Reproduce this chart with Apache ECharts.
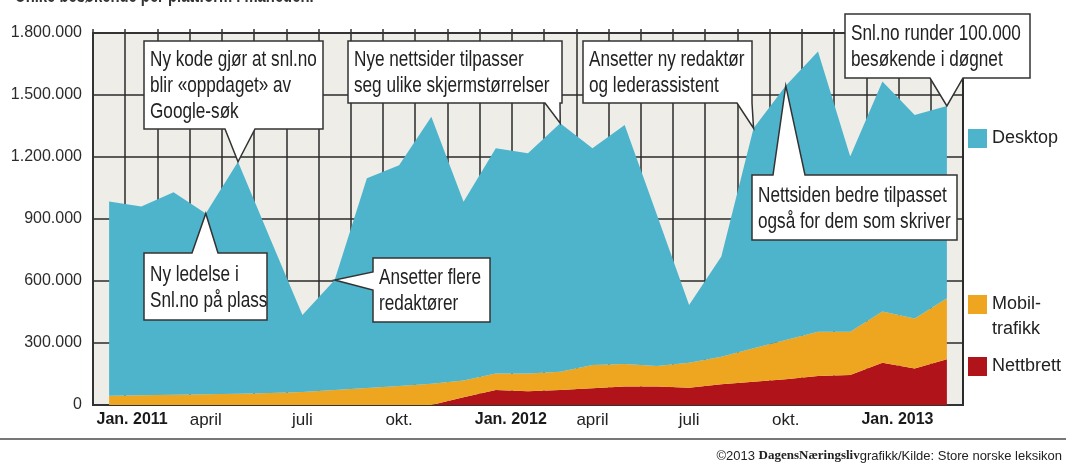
<!DOCTYPE html>
<html><head><meta charset="utf-8">
<script src="https://cdn.jsdelivr.net/npm/echarts@6/dist/echarts.min.js"></script>
<style>html,body{margin:0;padding:0;background:#fff}#c{width:1066px;height:467px}</style>
</head><body><div id="c"></div>
<script>
// ---------- DATA ----------
const months = ['2011-01','2011-02','2011-03','2011-04','2011-05','2011-06','2011-07','2011-08','2011-09','2011-10','2011-11','2011-12',
                '2012-01','2012-02','2012-03','2012-04','2012-05','2012-06','2012-07','2012-08','2012-09','2012-10','2012-11','2012-12',
                '2013-01','2013-02','2013-03'];
const xTickLabels = ['Jan. 2011','','','april','','','juli','','','okt.','','',
                     'Jan. 2012','','','april','','','juli','','','okt.','','',
                     'Jan. 2013','',''];
const yTickValues = [0,300000,600000,900000,1200000,1500000,1800000];
const nettbrett = [0,0,0,0,0,0,0,0,0,0,0,38000,
                   72000,66000,73000,81000,89000,89000,84000,100000,113000,124000,140000,145000,
                   205000,177000,221000];
const mobil = [45000,47000,50000,52000,55000,58000,63000,72000,82000,92000,103000,80000,
               81000,87000,88000,113000,109000,100000,121000,134000,161000,191000,215000,210000,
               247000,242000,295000];
const desktop = [940000,913000,980000,875000,1122000,747000,372000,533000,1015000,1068000,1292000,866000,
                 1089000,1065000,1202000,1048000,1157000,731000,279000,484000,1065000,1230000,1355000,847000,
                 1113000,984000,931000];
const seriesNames = ['Nettbrett','Mobiltrafikk','Desktop'];
const legendLabels = {Desktop:'Desktop', Mobiltrafikk:['Mobil-','trafikk'], Nettbrett:'Nettbrett'};
const annotations = [
  {text:'Ny kode gjør at snl.no\nblir «oppdaget» av\nGoogle-søk', month:'2011-05'},
  {text:'Ny ledelse i\nSnl.no på plass', month:'2011-04'},
  {text:'Ansetter flere\nredaktører', month:'2011-08'},
  {text:'Nye nettsider tilpasser\nseg ulike skjermstørrelser', month:'2012-03'},
  {text:'Ansetter ny redaktør\nog lederassistent', month:'2012-09'},
  {text:'Nettsiden bedre tilpasset\nogså for dem som skriver', month:'2012-10'},
  {text:'Snl.no runder 100.000\nbesøkende i døgnet', month:'2013-03'}
];
const titleText = 'Unike besøkende per plattform i måneden.';
const sourceParts = ['©2013 ', 'DagensNæringsliv', 'grafikk/Kilde: Store norske leksikon'];

// ---------- LAYOUT / STYLE ----------
const FONT = "'Liberation Sans Narrow','Liberation Sans',Arial,sans-serif";
const colors = {Desktop:'#4db4cc', Mobiltrafikk:'#eea621', Nettbrett:'#b1131b'};
const calloutLayout = [
  {box:[144,41,179,88], side:'bottom', base:[225,255]},
  {box:[144,253,123,67], side:'top', base:[192,218]},
  {box:[373,258,117,64], side:'left', base:[272,290]},
  {box:[348,41,214,62], side:'bottom', base:[545,560]},
  {box:[583,41,169,62], side:'bottom', base:[737,752]},
  {box:[752,175,205,65], side:'top', base:[773,805]},
  {box:[845,14,185,64], side:'bottom', base:[930,963]}
];
const fmtThousands = v => String(v).replace(/\B(?=(\d{3})+(?!\d))/g,'.');
const seriesData = {Nettbrett:nettbrett, Mobiltrafikk:mobil, Desktop:desktop};

const chart = echarts.init(document.getElementById('c'), null, {renderer:'canvas'});
const legendText = {fontFamily:FONT, fontSize:18, color:'#222'};
const legendBase = {left:968, padding:0, itemWidth:19, itemHeight:19, icon:'rect', selectedMode:false, textStyle:legendText};
const option = {
  animation:false,
  backgroundColor:'#fff',
  grid:{left:93, right:103, top:33, bottom:62, show:true, backgroundColor:'#eeede8', borderColor:'#333', borderWidth:2},
  xAxis:[{
    type:'category', data:months, boundaryGap:true,
    axisLine:{show:true, lineStyle:{color:'#333', width:2}},
    axisTick:{show:false},
    splitLine:{show:true, interval:0, lineStyle:{color:'#2a2a2a', width:1.5}},
    axisLabel:{
      interval:(i)=>xTickLabels[i] !== '',
      margin:7,
      formatter:(v,i)=>{
        const t = xTickLabels[i];
        if (t.indexOf('Jan.')===0) return (i===0?'{j0|':'{j|') + t + '}';
        return '{m|' + t + '}';
      },
      rich:{
        j0:{fontFamily:FONT, fontWeight:'bold', fontSize:16, color:'#1a1a1a', padding:[0,0,0,46]},
        j:{fontFamily:FONT, fontWeight:'bold', fontSize:16, color:'#1a1a1a', padding:[0,0,0,30]},
        m:{fontFamily:FONT, fontSize:17, color:'#222'}
      }
    }
  },{
    type:'category', data:months, boundaryGap:true, position:'top',
    axisLine:{show:true, lineStyle:{color:'#333', width:2}},
    axisTick:{show:true, interval:0, length:4, lineStyle:{color:'#333', width:1.5}},
    axisLabel:{show:false}, splitLine:{show:false}
  }],
  yAxis:{
    type:'value', min:yTickValues[0], max:yTickValues[yTickValues.length-1], interval:yTickValues[1]-yTickValues[0],
    axisLine:{show:true, lineStyle:{color:'#333', width:2}},
    axisTick:{show:false},
    splitLine:{show:true, lineStyle:{color:'#2a2a2a', width:1.5}},
    axisLabel:{formatter:fmtThousands, fontFamily:FONT, fontSize:16, color:'#2b2b2b', margin:11}
  },
  legend:[
    Object.assign({data:['Desktop'], top:129, formatter:()=>legendLabels.Desktop}, legendBase),
    Object.assign({data:['Mobiltrafikk'], top:295, formatter:()=>legendLabels.Mobiltrafikk[0]}, legendBase),
    Object.assign({data:['Nettbrett'], top:357, formatter:()=>legendLabels.Nettbrett}, legendBase)
  ],
  series: seriesNames.map(n=>({
    name:n, type:'line', stack:'total', data:seriesData[n], symbol:'none',
    lineStyle:{width:0}, areaStyle:{color:colors[n], opacity:1}, itemStyle:{color:colors[n]},
    emphasis:{disabled:true}
  }))
};
chart.setOption(option);

// ---------- CALLOUTS (anchored to data through the axes) ----------
const totals = desktop.map((d,i)=>d+mobil[i]+nettbrett[i]);
const graphics = [];
annotations.forEach((a,k)=>{
  const L = calloutLayout[k];
  const idx = months.indexOf(a.month);
  const tip = chart.convertToPixel({xAxisIndex:0, yAxisIndex:0}, [idx, totals[idx]]);
  const [x,y,w,h] = L.box;
  let pts;
  if (L.side==='bottom') pts=[[x,y],[x+w,y],[x+w,y+h],[L.base[1],y+h],tip,[L.base[0],y+h],[x,y+h]];
  else if (L.side==='top') pts=[[x,y],[L.base[0],y],tip,[L.base[1],y],[x+w,y],[x+w,y+h],[x,y+h]];
  else pts=[[x,y],[x+w,y],[x+w,y+h],[x,y+h],[x,L.base[1]],tip,[x,L.base[0]]];
  graphics.push({type:'polygon', shape:{points:pts}, style:{fill:'#fff', stroke:'#333', lineWidth:1.5}, z:100});
  graphics.push({type:'text', x:x+6, y:y+h/2+1, scaleX:0.78, z:101,
    style:{text:a.text, fontFamily:FONT, fontSize:22, fill:'#222', lineHeight:26, verticalAlign:'middle', align:'left'}});
});
// second line of the Mobil-trafikk legend label
graphics.push({type:'text', x:992, y:329, z:50,
  style:{text:legendLabels.Mobiltrafikk[1], fontFamily:FONT, fontSize:18, fill:'#222', verticalAlign:'middle', align:'left'}});
graphics.push({type:'text', x:15, y:6, scaleX:0.74, z:50,
  style:{text:titleText, fontFamily:FONT, fontSize:20, fontWeight:'bold', fill:'#333', verticalAlign:'bottom', align:'left'}});
graphics.push({type:'line', shape:{x1:0, y1:439, x2:1066, y2:439}, style:{stroke:'#777', lineWidth:2}, z:50});
graphics.push({type:'text', x:1062, y:456, z:50,
  style:{rich:{
      a:{fontFamily:FONT, fontSize:13, fill:'#222'},
      b:{fontFamily:"'Liberation Serif',serif", fontWeight:'bold', fontSize:13, fill:'#222'}},
    text:'{a|'+sourceParts[0]+'}{b|'+sourceParts[1]+'}{a|'+sourceParts[2]+'}',
    align:'right', verticalAlign:'middle'}});
chart.setOption({graphic:graphics});
</script></body></html>
